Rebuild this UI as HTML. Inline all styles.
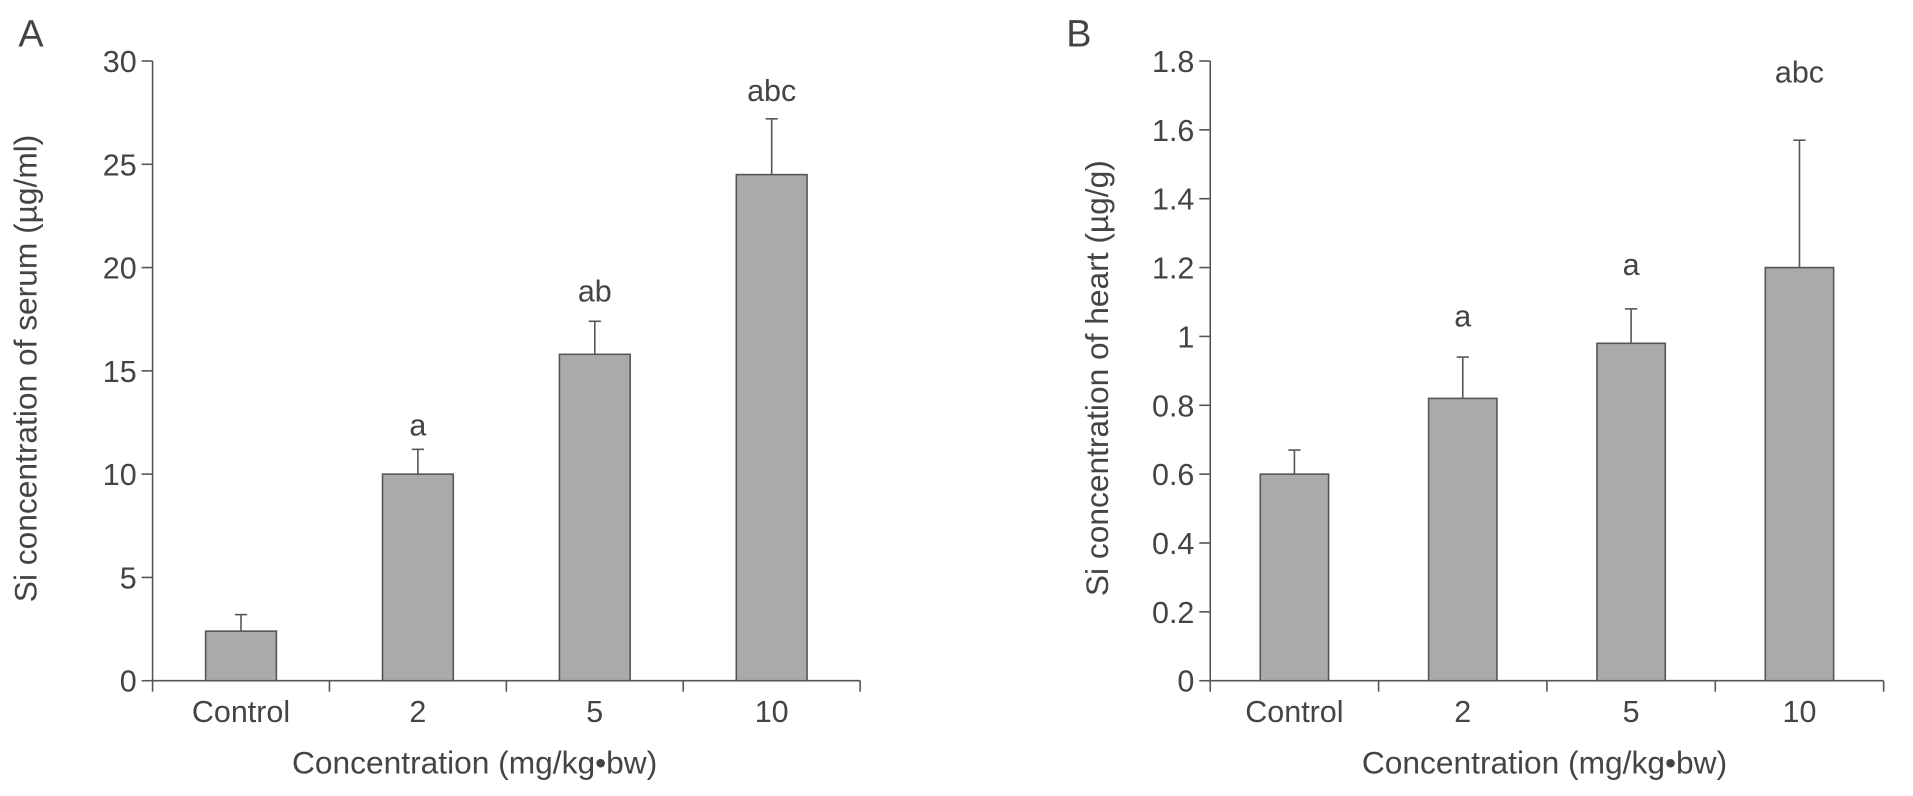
<!DOCTYPE html>
<html><head><meta charset="utf-8"><style>
body{margin:0;background:#fff}
svg{display:block}
text{font-family:"Liberation Sans",sans-serif;fill:#444}
</style></head><body>
<svg id="c" width="1913" height="796" viewBox="0 0 1568 652.5"></svg>
<script>
const categories=["Control","2","5","10"];
const serumValues=[2.4,10.0,15.8,24.5];
const serumErrors=[0.8,1.2,1.6,2.7];
const serumSig=["","a","ab","abc"];
const serumSigPos=[0,12.4,18.9,28.6];
const serumTicks=[0,5,10,15,20,25,30];
const heartValues=[0.6,0.82,0.98,1.2];
const heartErrors=[0.07,0.12,0.10,0.37];
const heartSig=["","a","a","abc"];
const heartSigPos=[0,1.06,1.21,1.77];
const heartTicks=[0,0.2,0.4,0.6,0.8,1,1.2,1.4,1.6,1.8];
const NS="http://www.w3.org/2000/svg";
const svg=document.getElementById('c');
function mk(tag,attrs,parent){const e=document.createElementNS(NS,tag);for(const k in attrs)e.setAttribute(k,attrs[k]);(parent||svg).appendChild(e);return e;}
function panel(p){
  const g=mk('g',{});
  
  
  const y0=558,y1=50,ymax=p.ticks[p.ticks.length-1];
  const Y=v=>y0-(v/ymax)*(y0-y1);
  const X=i=>p.x0+p.step*(i+0.5);
  const L=mk('text',{x:p.letterX,y:38,'font-size':31},g);L.textContent=p.letter;
  
  
  const ax=mk('line',{x1:p.x0,y1:y1,x2:p.x0,y2:y0,stroke:'#555','stroke-width':1.3},g);
  
  
  const xa=mk('line',{x1:p.x0,y1:y0,x2:p.x0+p.step*4,y2:y0,stroke:'#555','stroke-width':1.3},g);
  
  
  p.ticks.forEach(t=>{
    mk('line',{x1:p.x0-9,y1:Y(t),x2:p.x0,y2:Y(t),stroke:'#555','stroke-width':1.3},g);
    const tx=mk('text',{x:p.x0-13,y:Y(t)+9,'font-size':25,'text-anchor':'end'},g);tx.textContent=t;
    
    
  });
  for(let i=0;i<=4;i++)mk('line',{x1:p.x0+p.step*i,y1:y0,x2:p.x0+p.step*i,y2:y0+9,stroke:'#555','stroke-width':1.3},g);
  categories.forEach((c,i)=>{
    const cx=X(i),v=p.values[i],e=p.errors[i];
    const b=mk('rect',{x:cx-p.bw/2,y:Y(v),width:p.bw,height:y0-Y(v),fill:'#aaaaaa',stroke:'#555','stroke-width':1.3},g);
    
    
    mk('line',{x1:cx,y1:Y(v),x2:cx,y2:Y(v+e),stroke:'#555','stroke-width':1.3},g);
    mk('line',{x1:cx-5,y1:Y(v+e),x2:cx+5,y2:Y(v+e),stroke:'#555','stroke-width':1.3},g);
    if(p.sig[i]){const s=mk('text',{x:cx,y:Y(p.sigPos[i])+9,'font-size':25,'text-anchor':'middle'},g);s.textContent=p.sig[i];
      
      }
    const cl=mk('text',{x:cx,y:592,'font-size':25,'text-anchor':'middle'},g);cl.textContent=c;
    
    
  });
  const xt=mk('text',{x:p.titleX,y:634,'font-size':26,'text-anchor':'middle'},g);xt.textContent='Concentration (mg/kg\u2022bw)';
  
  
  const yt=mk('text',{x:0,y:0,'font-size':26,'text-anchor':'middle',transform:`translate(${p.ytX},${p.ytY}) rotate(-90)`},g);yt.textContent=p.ytitle;
  
  
}
panel({name:'serum-chart',letter:'A',letterX:15,x0:125,step:145,bw:58,titleX:389,values:serumValues,errors:serumErrors,sig:serumSig,sigPos:serumSigPos,ticks:serumTicks,ytX:30,ytY:302,ytitle:'Si concentration of serum (\u00b5g/ml)'});
panel({name:'heart-chart',letter:'B',letterX:874,x0:992,step:138,bw:56,titleX:1266,values:heartValues,errors:heartErrors,sig:heartSig,sigPos:heartSigPos,ticks:heartTicks,ytX:908,ytY:310,ytitle:'Si concentration of heart (\u00b5g/g)'});
</script>
</body></html>
